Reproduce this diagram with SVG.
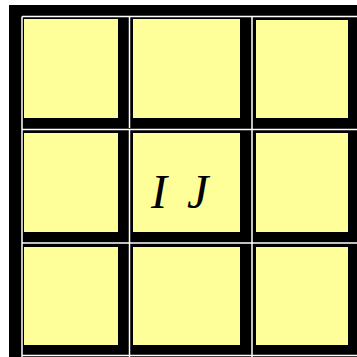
<svg xmlns="http://www.w3.org/2000/svg" width="357" height="357" viewBox="0 0 357 357">
<style>
.cell{fill:#ffff99;}
.grid{stroke:#ffffff;stroke-width:1.5;fill:none;}
.lbl{font-family:"Liberation Serif","Times New Roman",serif;font-style:italic;font-size:48px;fill:#000;}
</style>
<rect x="9" y="5" width="348" height="352" fill="#000"/>
<g id="gridlines">
<path class="grid" d="M22 16.5V357M129.5 129.5V357M129.5 16.5V128M252 16.5V357M22 16.5H357M22 129.5H357M22 243H357M22 355.5H357"/>
</g>
<g id="cell-1-1"><rect class="cell" x="24" y="19" width="94" height="99"/></g>
<g id="cell-1-2"><rect class="cell" x="133" y="19" width="107" height="99"/></g>
<g id="cell-1-3"><rect class="cell" x="256" y="20" width="92" height="98"/></g>
<g id="cell-2-1"><rect class="cell" x="24" y="133" width="94" height="99"/></g>
<g id="cell-2-2"><rect class="cell" x="133" y="133" width="107" height="99"/>
<text class="lbl" x="151" y="208">I</text><text class="lbl" x="187" y="208">J</text></g>
<g id="cell-2-3"><rect class="cell" x="256" y="133" width="92" height="99"/></g>
<g id="cell-3-1"><rect class="cell" x="24" y="247" width="94" height="98"/></g>
<g id="cell-3-2"><rect class="cell" x="133" y="247" width="107" height="98"/></g>
<g id="cell-3-3"><rect class="cell" x="256" y="247" width="92" height="98"/></g>
</svg>
